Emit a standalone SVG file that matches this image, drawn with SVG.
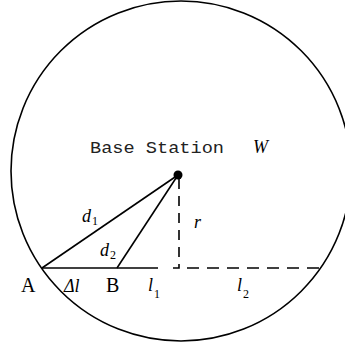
<svg xmlns="http://www.w3.org/2000/svg" width="345" height="349" viewBox="0 0 345 349">
<style>
.ln{stroke:#000;stroke-width:1.6;fill:none}
.ds{stroke:#000;stroke-width:1.6;fill:none}
.lb{font-family:"Liberation Serif",serif;font-size:20px;fill:#000}
.it{font-family:"Liberation Serif",serif;font-style:italic;font-size:18px;fill:#000}
.sb{font-family:"Liberation Serif",serif;font-size:12px;fill:#000}
.tt{font-family:"Liberation Mono",monospace;font-size:16px;fill:#222}
</style>
<rect width="345" height="349" fill="#fff"/>
<g id="coverage">
<circle cx="181" cy="171" r="170" class="ln"/>
</g>
<g id="base-station">
<circle cx="178" cy="175" r="4.5" fill="#000"/>
<text x="90" y="153" class="tt" textLength="134" lengthAdjust="spacingAndGlyphs">Base Station</text>
<text x="253" y="153" class="it">W</text>
</g>
<g id="connectors">
<line x1="42" y1="268" x2="178" y2="175" class="ln"/>
<line x1="117" y1="268" x2="178" y2="175" class="ln"/>
<line x1="42" y1="268" x2="158" y2="268" class="ln"/>
<path d="M179,179 V268 H166" class="ds" stroke-dasharray="10 7"/>
<path d="M179,268 H321" class="ds" stroke-dasharray="12 8" stroke-dashoffset="-8"/>
</g>
<g id="labels">
<text x="82" y="222" class="it">d</text><text x="92" y="225" class="sb">1</text>
<text x="100" y="256" class="it">d</text><text x="110" y="259" class="sb">2</text>
<text x="194" y="228" class="it">r</text>
<text x="21" y="292" class="lb">A</text>
<text x="64" y="292" class="it">Δl</text>
<text x="106" y="292" class="lb">B</text>
<text x="148" y="291" class="it">l</text><text x="154" y="298" class="sb" font-size="14">1</text>
<text x="237" y="291" class="it">l</text><text x="243" y="298" class="sb" font-size="14">2</text>
</g>
</svg>
